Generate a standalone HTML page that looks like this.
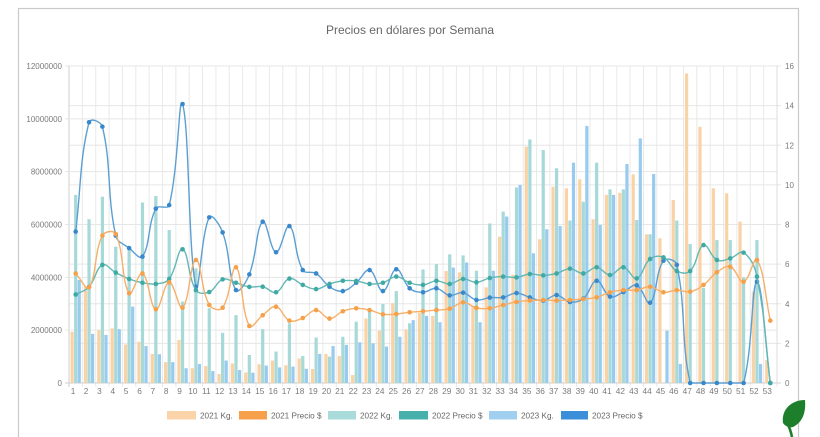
<!DOCTYPE html>
<html><head><meta charset="utf-8"><style>
html,body{margin:0;padding:0;background:#fff;width:820px;height:437px;overflow:hidden}
svg{display:block;font-family:"Liberation Sans",Arial,sans-serif}
</style></head><body>
<svg id="s" width="820" height="437" viewBox="0 0 820 437" xmlns="http://www.w3.org/2000/svg">
<rect x="0" y="0" width="820" height="437" fill="#fff"/>
<rect x="18.5" y="8.5" width="780" height="440" fill="#fff" stroke="#c9c9c9" stroke-width="1.2"/>
<text x="410" y="34" font-size="12" fill="#666" text-anchor="middle">Precios en dólares por Semana</text>
<g id="plot"></g>
<g font-size="8" fill="#7a7a7a" text-anchor="end">
<text x="62" y="386">0</text>
<text x="62" y="333.2">2000000</text>
<text x="62" y="280.3">4000000</text>
<text x="62" y="227.5">6000000</text>
<text x="62" y="174.7">8000000</text>
<text x="62" y="121.8">10000000</text>
<text x="62" y="69">12000000</text>
</g>
<g font-size="8" fill="#7a7a7a" text-anchor="start">
<text x="785" y="386">0</text>
<text x="785" y="346.4">2</text>
<text x="785" y="306.8">4</text>
<text x="785" y="267.1">6</text>
<text x="785" y="227.5">8</text>
<text x="785" y="187.9">10</text>
<text x="785" y="148.3">12</text>
<text x="785" y="108.6">14</text>
<text x="785" y="69">16</text>
</g>
<g font-size="8.3" fill="#7a7a7a" text-anchor="middle">
<text x="73" y="394">1</text><text x="86" y="394">2</text><text x="99.4" y="394">3</text><text x="112.8" y="394">4</text><text x="126.1" y="394">5</text><text x="139.5" y="394">6</text><text x="152.8" y="394">7</text><text x="166.2" y="394">8</text><text x="179.5" y="394">9</text><text x="192.9" y="394">10</text><text x="206.3" y="394">11</text><text x="219.6" y="394">12</text><text x="233" y="394">13</text><text x="246.3" y="394">14</text><text x="259.7" y="394">15</text><text x="273.1" y="394">16</text><text x="286.4" y="394">17</text><text x="299.8" y="394">18</text><text x="313.1" y="394">19</text><text x="326.5" y="394">20</text><text x="339.8" y="394">21</text><text x="353.2" y="394">22</text><text x="366.6" y="394">23</text><text x="379.9" y="394">24</text><text x="393.3" y="394">25</text><text x="406.6" y="394">26</text><text x="420" y="394">27</text><text x="433.4" y="394">28</text><text x="446.7" y="394">29</text><text x="460.1" y="394">30</text><text x="473.4" y="394">31</text><text x="486.8" y="394">32</text><text x="500.1" y="394">33</text><text x="513.5" y="394">34</text><text x="526.9" y="394">35</text><text x="540.2" y="394">36</text><text x="553.6" y="394">37</text><text x="566.9" y="394">38</text><text x="580.3" y="394">39</text><text x="593.7" y="394">40</text><text x="607" y="394">41</text><text x="620.4" y="394">42</text><text x="633.7" y="394">43</text><text x="647.1" y="394">44</text><text x="660.5" y="394">45</text><text x="673.8" y="394">46</text><text x="687.2" y="394">47</text><text x="700.5" y="394">48</text><text x="713.9" y="394">49</text><text x="727.2" y="394">50</text><text x="740.6" y="394">51</text><text x="754" y="394">52</text><text x="767.3" y="394">53</text>
</g>
<g font-size="8.2" fill="#666">
<rect x="167" y="411" width="29" height="8.5" fill="#fbd3a9"/><text x="200" y="418.3">2021 Kg.</text>
<rect x="239" y="411" width="28" height="8.5" fill="#f7a04c"/><text x="271" y="418.3">2021 Precio $</text>
<rect x="328" y="411" width="28" height="8.5" fill="#a9dbda"/><text x="360" y="418.3">2022 Kg.</text>
<rect x="399" y="411" width="29" height="8.5" fill="#48b0ac"/><text x="432" y="418.3">2022 Precio $</text>
<rect x="489" y="411" width="28" height="8.5" fill="#a0cff0"/><text x="521" y="418.3">2023 Kg.</text>
<rect x="561" y="411" width="27" height="8.5" fill="#3a8fd8"/><text x="592" y="418.3">2023 Precio $</text>
</g>
<g>
<path d="M805 400 C792 400 781 409 783 423 C786 427 790 428 793 427 C803 422 806 412 805 400 Z" fill="#1d7f2c"/>
<path d="M787 423 C790 428 791 432 792 437" stroke="#1d7f2c" stroke-width="2.6" fill="none"/>
</g>
</svg>
<script>
(function(){
var X0=69,X1=777,Y0=66,Y1=383,N=53,W=(X1-X0)/N,H=Y1-Y0;
function yL(v){return Y1-v/12*H;}
function yR(v){return Y1-v/16*H;}
var kg21=[1.94,3.65,2.0,2.07,1.46,1.56,1.1,0.79,1.63,0.56,0.64,0.34,0.74,0.4,0.71,0.85,0.67,0.93,0.53,1.1,1.02,0.3,2.44,1.98,3.02,2.03,2.66,2.54,4.24,4.19,2.93,3.62,5.54,4.1,8.95,5.44,7.43,7.37,7.71,6.2,7.12,7.2,7.9,5.63,5.48,6.93,11.72,9.7,7.37,7.18,6.11,3.46,0.87];
var kg22=[7.12,6.2,7.05,5.16,5.03,6.83,7.08,5.79,3.08,4.34,2.83,1.9,2.57,1.06,2.04,1.19,2.26,1.02,1.72,1.0,1.75,2.32,2.7,2.99,3.48,2.26,4.3,4.5,4.87,4.83,4.25,6.04,6.49,7.4,9.22,8.82,8.13,6.15,6.86,8.34,7.33,7.33,6.17,5.63,0,6.15,5.26,3.6,5.41,5.41,4.0,5.41,0];
var kg23=[3.9,1.86,1.82,2.04,2.89,1.4,1.09,0.79,0.56,0.72,0.45,0.85,0.49,0.39,0.66,0.59,0.62,0.54,1.1,1.4,1.44,1.54,1.5,1.38,1.75,2.38,2.54,2.3,4.37,4.56,2.3,4.25,6.3,7.5,4.91,5.82,5.94,8.34,9.73,5.98,7.12,8.29,9.26,7.91,1.98,0.72,0,0,0,0,0,0.72,0];
var p21=[5.53,4.83,7.44,7.52,4.53,5.53,3.72,5.08,3.8,6.21,3.94,3.8,5.84,2.88,3.42,3.85,3.15,3.28,3.68,3.25,3.62,3.77,3.68,3.47,3.48,3.57,3.62,3.68,3.75,4.07,3.79,3.77,3.94,4.09,4.16,4.19,4.16,4.19,4.24,4.32,4.58,4.69,4.69,4.86,4.58,4.69,4.61,4.95,5.59,5.87,5.11,6.21,3.15];
var p22=[4.47,4.85,5.96,5.57,5.25,5.06,5.0,5.25,6.75,4.69,4.59,5.23,5.06,4.85,4.86,4.58,5.27,4.95,4.74,5.0,5.16,5.15,5.0,5.06,5.37,5.06,4.95,5.16,5.0,5.25,5.08,5.3,5.37,5.33,5.5,5.43,5.53,5.77,5.53,5.84,5.45,5.84,5.28,6.26,6.34,5.65,5.65,6.96,6.21,6.29,6.58,5.37,0];
var p23=[7.64,13.16,12.94,7.44,6.81,6.38,8.8,8.98,14.08,4.86,8.36,7.6,4.69,5.48,8.14,6.6,7.92,5.7,5.53,4.86,4.64,5.06,5.7,4.64,5.74,4.78,4.58,4.78,4.42,4.56,4.19,4.31,4.32,4.54,4.32,4.16,4.44,4.09,4.26,5.16,4.36,4.59,4.93,4.05,6.17,5.96,0,0,0,0,0,5.11,0];
var s='';
var i,x,y;
for(i=0;i<=N;i++){x=(X0+i*W).toFixed(2);s+='<line x1="'+x+'" y1="'+Y0+'" x2="'+x+'" y2="'+(Y1+4)+'" stroke="'+(i==0?'#cfcfcf':'#e9e9e9')+'" stroke-width="1"/>';}
for(i=0;i<=6;i++){y=yL(i*2).toFixed(2);s+='<line x1="'+(X0-4)+'" y1="'+y+'" x2="'+X1+'" y2="'+y+'" stroke="'+(i==0?'#cfcfcf':'#e6e6e6')+'" stroke-width="1"/>';}
for(i=0;i<=8;i++){y=yR(i*2).toFixed(2);s+='<line x1="'+X0+'" y1="'+y+'" x2="'+(X1+4)+'" y2="'+y+'" stroke="'+(i==0?'#cfcfcf':'#e6e6e6')+'" stroke-width="1"/>';}
s+='<line x1="'+X1+'" y1="'+Y0+'" x2="'+X1+'" y2="'+Y1+'" stroke="#dcdcdc" stroke-width="1"/>';
var slot=W*0.8/3,bw=slot*0.9,cols=['#f9d2a6','#a6d9d7','#98cbee'],sets=[kg21,kg22,kg23];
for(i=0;i<N;i++){
 for(var k=0;k<3;k++){
  var v=sets[k][i]; if(!v) continue;
  var cx=X0+i*W+W*0.1+slot*(k+0.5);
  var top=yL(v);
  s+='<rect x="'+(cx-bw/2).toFixed(2)+'" y="'+top.toFixed(2)+'" width="'+bw.toFixed(2)+'" height="'+(Y1-top).toFixed(2)+'" fill="'+cols[k]+'"/>';
 }
}
function line(data,col,dot){
 var pts=[];
 for(var i=0;i<data.length;i++){pts.push({x:X0+(i+0.5)*W,y:yR(data[i])});}
 var t=0.4;
 for(i=0;i<pts.length;i++){
  var p=pts[i],pr=pts[i-1]||p,nx=pts[i+1]||p;
  var d01=Math.hypot(p.x-pr.x,p.y-pr.y),d12=Math.hypot(nx.x-p.x,nx.y-p.y);
  var s01=d01/(d01+d12),s12=d12/(d01+d12);
  if(isNaN(s01))s01=0;if(isNaN(s12))s12=0;
  var fa=t*s01,fb=t*s12;
  p.c1x=p.x-fa*(nx.x-pr.x);p.c1y=p.y-fa*(nx.y-pr.y);
  p.c2x=p.x+fb*(nx.x-pr.x);p.c2y=p.y+fb*(nx.y-pr.y);
  p.c1y=Math.max(Y0,Math.min(Y1,p.c1y));p.c2y=Math.max(Y0,Math.min(Y1,p.c2y));
  p.c1x=Math.max(X0,Math.min(X1,p.c1x));p.c2x=Math.max(X0,Math.min(X1,p.c2x));
 }
 var d='M'+pts[0].x.toFixed(2)+' '+pts[0].y.toFixed(2);
 for(i=1;i<pts.length;i++){
  var a=pts[i-1],b=pts[i];
  d+=' C'+a.c2x.toFixed(2)+' '+a.c2y.toFixed(2)+' '+b.c1x.toFixed(2)+' '+b.c1y.toFixed(2)+' '+b.x.toFixed(2)+' '+b.y.toFixed(2);
 }
 var o='<path d="'+d+'" fill="none" stroke="'+col+'" stroke-width="1.4"/>';
 for(i=0;i<pts.length;i++){o+='<circle cx="'+pts[i].x.toFixed(2)+'" cy="'+pts[i].y.toFixed(2)+'" r="2.3" fill="'+dot+'"/>';}
 return o;
}
s+=line(p23,'#5b9fd2','#3a88cc');
s+=line(p22,'#62b8b4','#3fa9a4');
s+=line(p21,'#f6b06a','#f5a04a');
document.getElementById('plot').innerHTML=s;
})();
</script>
</body></html>
